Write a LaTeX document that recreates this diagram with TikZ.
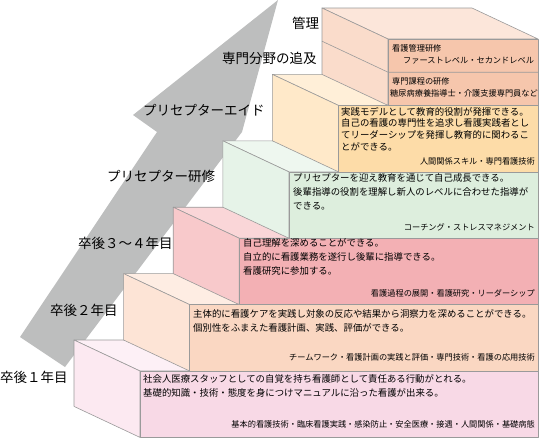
\documentclass[tikz,border=0pt]{standalone}
\usepackage{fontspec}
\setmainfont{Noto Sans CJK JP}
\usepackage{tikz}
\usetikzlibrary{positioning}

\definecolor{arrowgray}{HTML}{BDBEBE}
\definecolor{edgegray}{HTML}{9A9A9A}
\definecolor{oneF}{HTML}{F8D9E6}\definecolor{oneS}{HTML}{FCE9F1}\definecolor{oneT}{HTML}{FDF0F6}
\definecolor{twoF}{HTML}{FAD7C2}\definecolor{twoS}{HTML}{FDE4D6}\definecolor{twoT}{HTML}{FEEDE3}
\definecolor{thrF}{HTML}{F3B0B4}\definecolor{thrS}{HTML}{F8C9CB}\definecolor{thrT}{HTML}{FAD6D8}
\definecolor{fouF}{HTML}{DDEEDD}\definecolor{fouS}{HTML}{E6F3E8}\definecolor{fouT}{HTML}{EEF7EF}
\definecolor{fivF}{HTML}{FDDCA8}\definecolor{fivS}{HTML}{FFE9C9}\definecolor{fivT}{HTML}{FFEFD8}
\definecolor{sixF}{HTML}{F6C6AC}\definecolor{sixS}{HTML}{FADCCB}\definecolor{sixT}{HTML}{FCE6DA}

\begin{document}
\begin{tikzpicture}[x=1pt, y=-1pt,
  face/.style={draw=edgegray, line width=0.6pt, line join=round},
  big/.style={font=\fontsize{13.5}{16}\selectfont, inner sep=0pt, anchor=west},
  txt/.style={font=\fontsize{9.4}{14}\selectfont, align=left, anchor=north west, inner sep=0pt},
  foot/.style={font=\fontsize{8.2}{10}\selectfont, inner sep=0pt, anchor=east}]
  \useasboundingbox (0,0) rectangle (540,439);

  % big arrow behind the steps
  \fill[arrowgray] (20,337) -- (157,132) -- (133,115) -- (278,0) -- (242,132) -- (65,367) -- cycle;

  % steps, bottom to top
  \foreach \k/\fr/\sd/\tp in {0/oneF/oneS/oneT, 1/twoF/twoS/twoT, 2/thrF/thrS/thrT,
                             3/fouF/fouS/fouT, 4/fivF/fivS/fivT, 5/sixF/sixS/sixT} {
    \pgfmathsetmacro\fx{140+49.6*\k}
    \pgfmathsetmacro\yt{371-66.4*\k}
    \pgfmathsetmacro\yb{\yt+66.4}
    \filldraw[face, fill=\tp] (\fx-66,\yt-31) -- (472,\yt-31) -- (538,\yt) -- (\fx,\yt) -- cycle;
    \filldraw[face, fill=\sd] (\fx-66,\yt-31) -- (\fx,\yt) -- (\fx,\yb) -- (\fx-66,\yb-31) -- cycle;
    \filldraw[face, fill=\fr] (\fx,\yt) rectangle (538,\yb);
  }
  \draw[face] (322,41.2) -- (388,72.2) -- (538,72.2);

  % labels along the arrow
  \node[big] (yr1) at (0,377) {卒後１年目};
  \node[big] (yr2) at (50,310) {卒後２年目};
  \node[big] (yr34) at (78,243) {卒後３～４年目};
  \node[big] (pcTrain) at (107,176) {プリセプター研修};
  \node[big] (pcAide) at (143,110) {プリセプターエイド};
  \node[big] (spec) at (222,58) {専門分野の追及};
  \node[big] (mgmt) at (292,23) {管理};

  % step texts
  \node[txt] (s1txt) at (143,374) {社会人医療スタッフとしての自覚を持ち看護師として責任ある行動がとれる。\\基礎的知識・技術・態度を身につけマニュアルに沿った看護が出来る。};
  \node[foot] (s1foot) at (535,424) {基本的看護技術・臨床看護実践・感染防止・安全医療・接遇・人間関係・基礎病態};

  \node[txt] (s2txt) at (193,309) {主体的に看護ケアを実践し対象の反応や結果から洞察力を深めることができる。\\個別性をふまえた看護計画、実践、評価ができる。};
  \node[foot] (s2foot) at (535,357) {チームワーク・看護計画の実践と評価・専門技術・看護の応用技術};

  \node[txt] (s3txt) at (243,238) {自己理解を深めることができる。\\自立的に看護業務を遂行し後輩に指導できる。\\看護研究に参加する。};
  \node[foot] (s3foot) at (535,293) {看護過程の展開・看護研究・リーダーシップ};

  \node[txt] (s4txt) at (293,173) {プリセプターを迎え教育を通じて自己成長できる。\\後輩指導の役割を理解し新人のレベルに合わせた指導が\\できる。};
  \node[foot] (s4foot) at (535,227) {コーチング・ストレスマネジメント};

  \node[txt, font=\fontsize{9.4}{11.6}\selectfont] (s5txt) at (341,107) {実践モデルとして教育的役割が発揮できる。\\自己の看護の専門性を追求し看護実践者とし\\てリーダーシップを発揮し教育的に関わるこ\\とができる。};
  \node[foot] (s5foot) at (535,161) {人間関係スキル・専門看護技術};

  \node[foot, anchor=west] (s6a) at (392,48) {看護管理研修};
  \node[foot, anchor=west] (s6b) at (403,61) {ファーストレベル・セカンドレベル};
  \node[foot, anchor=west] (s6c) at (392,81) {専門課程の研修};
  \node[foot, anchor=west] (s6d) at (390,93) {糖尿病療養指導士・介護支援専門員など};
\end{tikzpicture}
\end{document}
